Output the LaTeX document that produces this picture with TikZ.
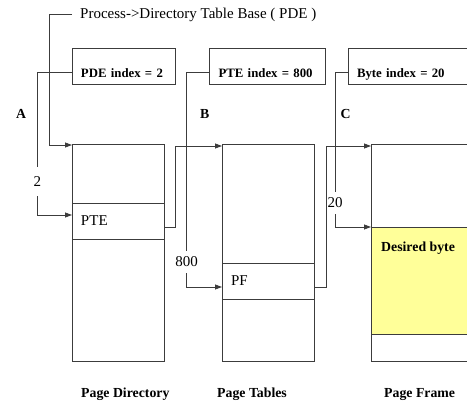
\documentclass[tikz,border=0pt]{standalone}
\usepackage{fontspec}
\setmainfont{Liberation Serif}
\usetikzlibrary{positioning,arrows.meta}
\definecolor{wiregray}{HTML}{3C3C3C}
\definecolor{bytefill}{HTML}{FFFF99}
\tikzset{
  plain/.style={inner sep=0pt, font=\fontsize{15}{18}\selectfont},
  heading/.style={inner sep=0pt, font=\bfseries\fontsize{13.8}{16}\selectfont},
  cell/.style={draw=wiregray, line width=0.8pt, minimum width=92pt, text width=74pt,
    inner xsep=9pt, inner ysep=0pt, outer sep=0pt, align=left, font=\fontsize{15}{18}\selectfont},
  idxbox/.style={draw=wiregray, line width=0.8pt, minimum height=36pt, inner xsep=9pt,
    outer sep=0pt, align=left, text height=22pt, text depth=0pt,
    font=\bfseries\fontsize{12.8}{15}\selectfont},
  num/.style={plain, minimum height=22pt},
  wire/.style={draw=wiregray, line width=0.8pt},
  ptr/.style={wire, -{Triangle[length=7pt,width=5pt]}}
}
\begin{document}
\begin{tikzpicture}[x=1pt, y=-1pt]
	\useasboundingbox (0,0) rectangle (467,405);
	\clip (0,0) rectangle (467,405);
	% Pointeur de base
	\node[plain, anchor=base west] (base) at (80,18) {Process->Directory Table Base ( PDE )};
	% Index
	\node[idxbox, text width=85pt] (pdeidx) at (123.5,66) {PDE index = 2};
	\node[idxbox, text width=97.5pt] (pteidx) at (267.3,66) {PTE index = 800};
	\node[idxbox, text width=107pt] (byteidx) at (410.5,66) {Byte index = 20};
	\node[heading, anchor=base west] (labA) at (16,118.7) {A};
	\node[heading, anchor=base west] (labB) at (200,118.7) {B};
	\node[heading, anchor=base west] (labC) at (340.5,118.7) {C};
	% Page Directory
	\node[cell, minimum height=59pt] (dtop) at (118,173.5) {};
	\node[cell, minimum height=36pt, below=0pt of dtop] (pte) {PTE};
	\node[cell, minimum height=122pt, below=0pt of pte] (dbot) {};
	% Page Tables
	\node[cell, minimum height=119pt] (ttop) at (268,203.5) {};
	\node[cell, minimum height=36pt, below=0pt of ttop] (pf) {PF};
	\node[cell, minimum height=62pt, below=0pt of pf] (tbot) {};
	% Page Frame
	\node[cell, minimum width=100pt, text width=82pt, minimum height=83pt] (ftop) at (421,185.5) {};
	\node[cell, minimum width=100pt, text width=82pt, minimum height=107pt, fill=bytefill, below=0pt of ftop] (byte) {};
	\node[cell, minimum width=100pt, text width=82pt, minimum height=27pt, below=0pt of byte] (fbot) {};
	\node[heading, anchor=base west] (desired) at ([xshift=10pt,yshift=-24pt]byte.north west) {Desired byte};
	% Titres
	\node[heading, anchor=base west] (capdir) at (81,397) {Page Directory};
	\node[heading, anchor=base west] (captab) at (217,397) {Page Tables};
	\node[heading, anchor=base west] (capframe) at (384,397) {Page Frame};
	% Decalages
	\node[num, minimum height=29pt] (numA) at (37.3,181.5) {2};
	\node[num] (numB) at (186.7,262) {800};
	\node[num] (numC) at (335,203) {20};
	% Liens
	\draw[ptr] ([xshift=-8pt]base.west) -| ([xshift=-23pt,yshift=-1pt]dtop.north west) -- ([yshift=-1pt]dtop.north west);
	\draw[wire] ([yshift=-6pt]pdeidx.west) -| (numA);
	\draw[ptr] (numA) |- ([yshift=6pt]pte.west);
	\draw[ptr] ([yshift=-6pt]pte.east) -| ([xshift=-47pt,yshift=-2pt]ttop.north west) -- ([yshift=-2pt]ttop.north west);
	\draw[wire] ([yshift=-6pt]pteidx.west) -| (numB);
	\draw[ptr] (numB) |- ([yshift=-6pt]pf.west);
	\draw[ptr] ([yshift=-6pt]pf.east) -| ([xshift=-45pt,yshift=-2pt]ftop.north west) -- ([yshift=-2pt]ftop.north west);
	\draw[wire] ([yshift=-6pt]byteidx.west) -| (numC);
	\draw[ptr] (numC) |- (byte.north west);
\end{tikzpicture}
\end{document}
